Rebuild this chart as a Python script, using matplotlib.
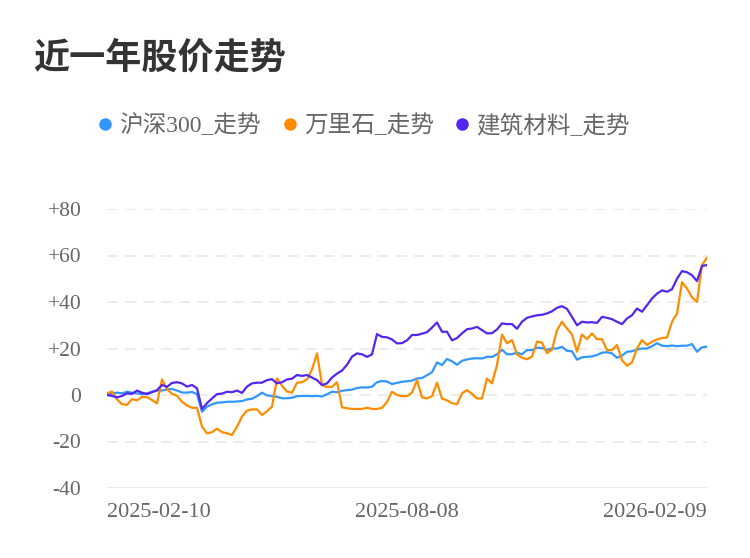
import matplotlib
matplotlib.use("Agg")
import matplotlib.pyplot as plt
from matplotlib.lines import Line2D

title = "近一年股价走势"
series_names = ["沪深300_走势", "万里石_走势", "建筑材料_走势"]
colors = ["#3296FA", "#FF8C00", "#5425EE"]
x_labels = ["2025-02-10", "2025-08-08", "2026-02-09"]
y_ticks = [-40, -20, 0, 20, 40, 60, 80]
y_tick_labels = ["-40", "-20", "0", "+20", "+40", "+60", "+80"]

hs300 = [0, 0.7, 1.0, 0.7, 1.4, 1.0, 0.7, 0.3, 0.7, 1.4, 1.9, 1.9, 2.4, 2.6, 1.9, 1.1, 1.0, 1.3, 0.4, -7.2,
         -5.0, -4.0, -3.3, -3.2, -2.9, -2.9, -2.8, -2.6, -1.9, -1.6, -0.5, 1.0, -0.2, -0.4, -0.8, -1.4, -1.4, -1.2, -0.5, -0.4,
         -0.4, -0.5, -0.4, -0.6, 0.3, 1.4, 1.2, 1.8, 2.1, 2.3, 3.0, 3.3, 3.2, 3.6, 5.5, 6.0, 5.8, 4.7, 5.2, 5.7,
         5.9, 6.2, 7.1, 7.3, 8.5, 9.8, 14.0, 12.9, 15.5, 14.5, 13.0, 14.7, 15.3, 15.7, 15.8, 15.7, 16.4, 16.4, 17.5, 19.5,
         17.5, 17.6, 18.2, 17.5, 19.3, 19.3, 20.3, 20.2, 19.4, 20.0, 20.0, 20.7, 19.0, 18.8, 15.2, 16.2, 16.4, 16.6, 17.2, 18.2,
         18.4, 17.9, 16.0, 16.9, 18.6, 18.8, 19.5, 20.0, 20.0, 21.0, 22.3, 21.2, 21.0, 21.3, 21.0, 21.2, 21.2, 21.9, 18.6, 20.5,
         20.8]

wanlishi = [0.7, 1.5, -1.9, -4.0, -4.2, -1.8, -2.3, -0.8, -0.9, -2.2, -3.6, 6.7, 2.5, 0.5, -0.3, -2.9, -4.5, -5.5, -5.5, -13.6,
            -16.5, -16.0, -14.5, -16.0, -16.5, -17.2, -13.6, -9.3, -6.7, -6.2, -6.2, -8.6, -7.0, -5.0, 7.1, 4.0, 1.5, 1.0, 5.3, 5.5,
            6.7, 11.0, 17.9, 4.3, 3.5, 3.5, 5.5, -5.3, -5.7, -6.0, -6.0, -6.0, -5.5, -6.0, -6.0, -5.5, -3.0, 1.4, 0.0, -0.5,
            -0.5, 1.0, 6.4, -1.0, -1.5, -0.5, 5.3, -1.5, -2.3, -3.5, -4.0, 0.7, 2.1, 0.5, -1.5, -1.5, 7.1, 5.0, 12.9, 26.0,
            22.2, 23.6, 17.5, 16.0, 15.4, 16.5, 23.0, 22.5, 18.0, 19.5, 27.9, 31.5, 28.6, 26.0, 18.6, 26.0, 24.0, 26.5, 24.0, 24.0,
            19.3, 19.3, 21.5, 15.0, 12.6, 14.0, 20.0, 23.6, 21.5, 22.9, 23.9, 24.5, 24.7, 31.5, 35.0, 48.5, 45.8, 42.0, 40.0, 55.9,
            59.1]

jianzhu = [0, -0.4, -1.0, -0.4, 0.7, 0.5, 1.9, 1.0, 0.4, 1.2, 2.1, 4.3, 3.5, 5.2, 5.5, 5.0, 3.6, 4.3, 2.9, -6.0,
           -3.5, -1.5, 0.4, 0.6, 1.4, 1.2, 1.9, 0.9, 3.6, 5.0, 5.3, 5.3, 6.4, 6.8, 5.0, 5.5, 6.7, 7.0, 8.6, 8.2,
           8.6, 7.5, 6.4, 4.3, 5.0, 7.5, 9.2, 10.5, 13.0, 16.5, 17.9, 17.5, 16.4, 17.5, 26.2, 25.0, 24.8, 23.9, 22.2, 22.3,
           23.5, 25.8, 25.8, 26.4, 27.0, 29.0, 31.2, 27.2, 27.2, 23.5, 24.5, 26.5, 28.3, 28.6, 29.3, 27.9, 26.5, 26.6, 28.2, 30.8,
           30.5, 30.5, 28.5, 31.5, 33.2, 33.8, 34.3, 34.5, 35.1, 36.0, 37.5, 38.2, 37.0, 33.6, 30.0, 31.5, 31.2, 31.3, 31.0, 33.6,
           33.2, 32.6, 31.5, 30.5, 32.9, 34.3, 37.2, 35.8, 38.6, 41.5, 43.6, 45.0, 44.4, 45.5, 50.0, 53.3, 52.8, 51.5, 49.0, 55.5,
           55.9]

all_series = [hs300, wanlishi, jianzhu]

cjk = ["Liberation Serif", "Noto Sans CJK SC", "DejaVu Sans"]
plt.rcParams["font.family"] = cjk

fig = plt.figure(figsize=(7.5, 5.58), dpi=100)
ax = fig.add_axes([107 / 750, 1 - 488 / 558, 600 / 750, 279 / 558])

n = len(hs300)
xs = list(range(n))
for vals, c in zip(all_series, colors):
    ax.plot(xs, vals, color=c, lw=1.6, solid_joinstyle="round", zorder=3)

ax.set_xlim(0, n - 1)
ax.set_ylim(-40, 80)
for t in y_ticks:
    if t == -40:
        ax.axhline(t, color="#e6e6e6", lw=1.2, zorder=1)
    else:
        ax.axhline(t, color="#ebebeb", lw=1.3, ls=(0, (6, 4)), zorder=1)

ax.set_yticks(y_ticks)
ax.set_yticklabels(y_tick_labels, fontsize=15.5, color="#666666")
ax.set_xticks([0, (n - 1) / 2, n - 1])
ax.set_xticklabels(x_labels, fontsize=16, color="#666666")
xt = ax.get_xticklabels()
xt[0].set_ha("left")
xt[1].set_ha("center")
xt[2].set_ha("right")
ax.tick_params(axis="both", length=0)
ax.tick_params(axis="y", pad=18.5)
ax.tick_params(axis="x", pad=11)
for s in ax.spines.values():
    s.set_visible(False)

fig.text(33 / 750, 1 - 58 / 558, title, fontsize=26, fontweight="bold", color="#333333",
         family=["Noto Sans CJK SC"], va="center", ha="left")

leg_x = [105, 290, 462]
for name, c, lx in zip(series_names, colors, leg_x):
    fig.add_artist(Line2D([lx / 750], [1 - 124 / 558], marker="o", markersize=9, color=c,
                          markeredgewidth=0, transform=fig.transFigure))
    fig.text((lx + 14) / 750, 1 - 126 / 558, name, fontsize=17, color="#666666",
             va="center", ha="left")

fig.savefig("out.png", dpi=100, facecolor="white")
